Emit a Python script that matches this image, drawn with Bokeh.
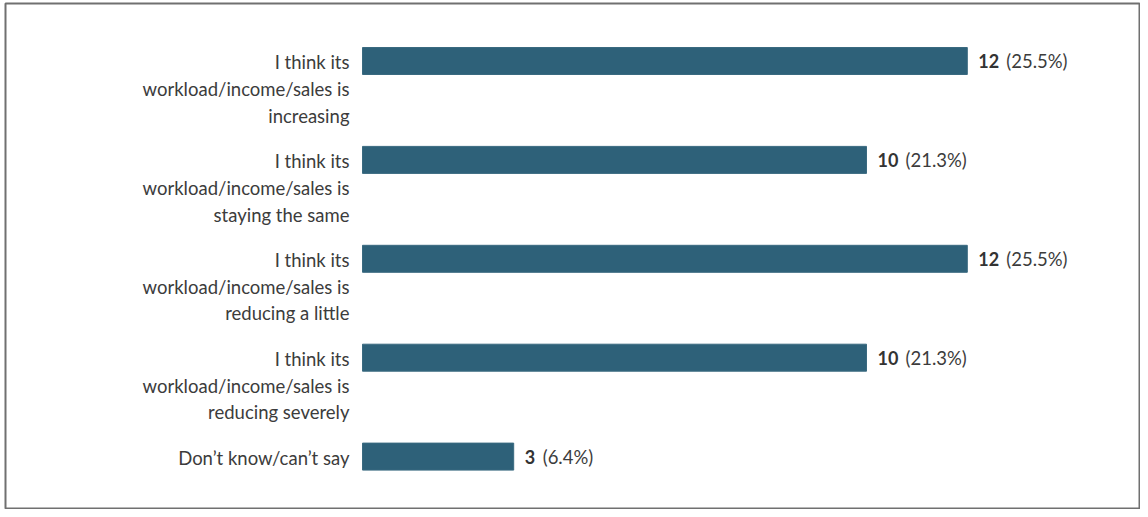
from bokeh.plotting import figure
from bokeh.models import Range1d, ColumnDataSource
from bokeh.core.properties import value
from bokeh.embed import file_html
from bokeh.resources import INLINE

categories = [
    "I think its\nworkload/income/sales is\nincreasing",
    "I think its\nworkload/income/sales is\nstaying the same",
    "I think its\nworkload/income/sales is\nreducing a little",
    "I think its\nworkload/income/sales is\nreducing severely",
    "Don\u2019t know/can\u2019t say",
]
counts = [12, 10, 12, 10, 3]
percents = ["(25.5%)", "(21.3%)", "(25.5%)", "(21.3%)", "(6.4%)"]

# layout constants (pixels, in picture coordinates)
W, H = 1140, 509
FL, FT = 5, 3               # frame (border) left / top inset
X0 = 362                    # x of bar origin
PX_PER_UNIT = 50.4
Y0, DY = 60.5, 98.9         # y of first bar centre, spacing

idx = list(range(len(categories)))
x_start = (FL - X0) / PX_PER_UNIT
x_end = (W - X0) / PX_PER_UNIT
y_top = (FT - Y0) / DY
y_bot = (H - Y0) / DY

p = figure(width=W, height=H, output_backend="svg", toolbar_location=None,
           x_range=Range1d(x_start, x_end), y_range=Range1d(y_bot, y_top),
           min_border=0, min_border_left=FL, min_border_top=FT)
p.xaxis.visible = False
p.yaxis.visible = False
p.grid.visible = False
p.outline_line_color = "#707070"
p.outline_line_width = 2
p.background_fill_color = "white"
p.border_fill_color = "white"

src = ColumnDataSource(dict(
    y=idx, cat=categories, count=counts, cnt=[str(c) for c in counts],
    pct=percents,
    pct_off=[11 + 10 * len(str(c)) + 8 for c in counts],
))

p.hbar(y="y", right="count", left=0, height=27 / DY, source=src,
       fill_color="#2e6179", line_color="#3a6a80", line_width=1)

p.text(x=-13 / PX_PER_UNIT, y="y", text="cat", source=src,
       text_align="right", text_baseline="top", y_offset=-10,
       text_font=value("Lato"), text_font_size="18.5px",
       text_color="#3c3c3c", text_line_height=1.22)

p.text(x="count", y="y", text="cnt", source=src, x_offset=11,
       text_align="left", text_baseline="middle",
       text_font=value("Lato"), text_font_size="18px", text_font_style="bold",
       text_color="#333333")
p.text(x="count", y="y", text="pct", source=src, x_offset="pct_off",
       text_align="left", text_baseline="middle",
       text_font=value("Lato"), text_font_size="18.5px",
       text_color="#3c3c3c")

open("out.html", "w").write(file_html(p, INLINE))
